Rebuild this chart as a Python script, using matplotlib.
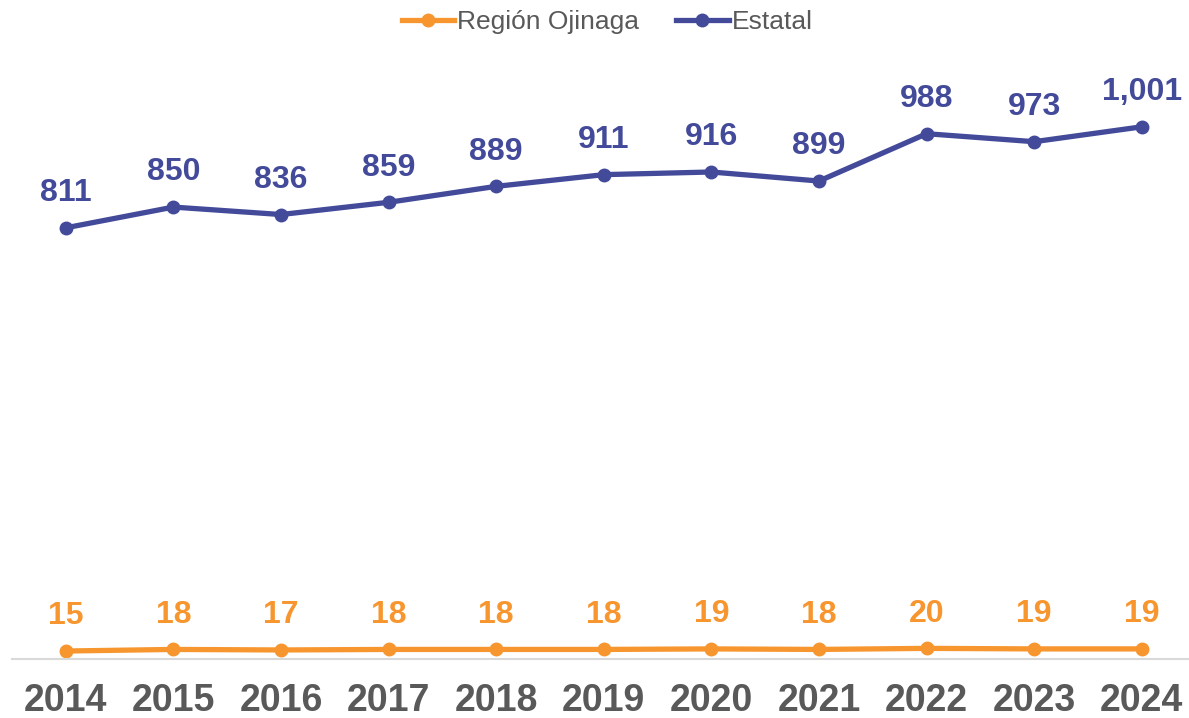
import matplotlib
matplotlib.use("Agg")
import matplotlib.pyplot as plt

years = ["2014", "2015", "2016", "2017", "2018", "2019", "2020", "2021", "2022", "2023", "2024"]
ojinaga = [15, 18, 17, 18, 18, 18, 19, 18, 20, 19, 19]
estatal = [811, 850, 836, 859, 889, 911, 916, 899, 988, 973, 1001]

ORANGE = "#F7962F"
BLUE = "#434A9A"

plt.rcParams['font.family'] = ['Liberation Sans', 'DejaVu Sans']

fig = plt.figure(figsize=(11.89, 7.18), dpi=100)
W, H = 1189, 718
ax = fig.add_axes([12 / W, (H - 659) / H, 1183.6 / W, 638 / H])

x = list(range(len(years)))
ax.plot(x, ojinaga, color=ORANGE, lw=3.8, marker="o", ms=9, label="Región Ojinaga", clip_on=False)
ax.plot(x, estatal, color=BLUE, lw=3.8, marker="o", ms=9, label="Estatal", clip_on=False)

for i in x:
    ax.annotate(f"{ojinaga[i]:,}", (i, ojinaga[i]), xytext=(0, 25), textcoords="offset points",
                ha="center", va="center", fontsize=23, fontweight="bold", color=ORANGE)
    ax.annotate(f"{estatal[i]:,}", (i, estatal[i]), xytext=(0, 25), textcoords="offset points",
                ha="center", va="center", fontsize=23, fontweight="bold", color=BLUE)

ax.set_xlim(-0.5, len(years) - 0.5)
ax.set_ylim(0, 1200)
ax.set_xticks(x)
ax.set_xticklabels(years, fontsize=27, fontweight="bold", color="#595959")
ax.tick_params(axis="x", length=0, pad=17)
ax.set_yticks([])
for side in ["top", "right", "left"]:
    ax.spines[side].set_visible(False)
ax.spines["bottom"].set_color("#D9D9D9")
ax.spines["bottom"].set_linewidth(1.5)

leg = fig.legend(loc="center", bbox_to_anchor=(607 / W, 1 - 22 / H), ncol=2, frameon=False,
                 fontsize=19, handlelength=2.0, columnspacing=1.4, handletextpad=0.1)
for t in leg.get_texts():
    t.set_color("#595959")

fig.savefig("out.png", dpi=100)
